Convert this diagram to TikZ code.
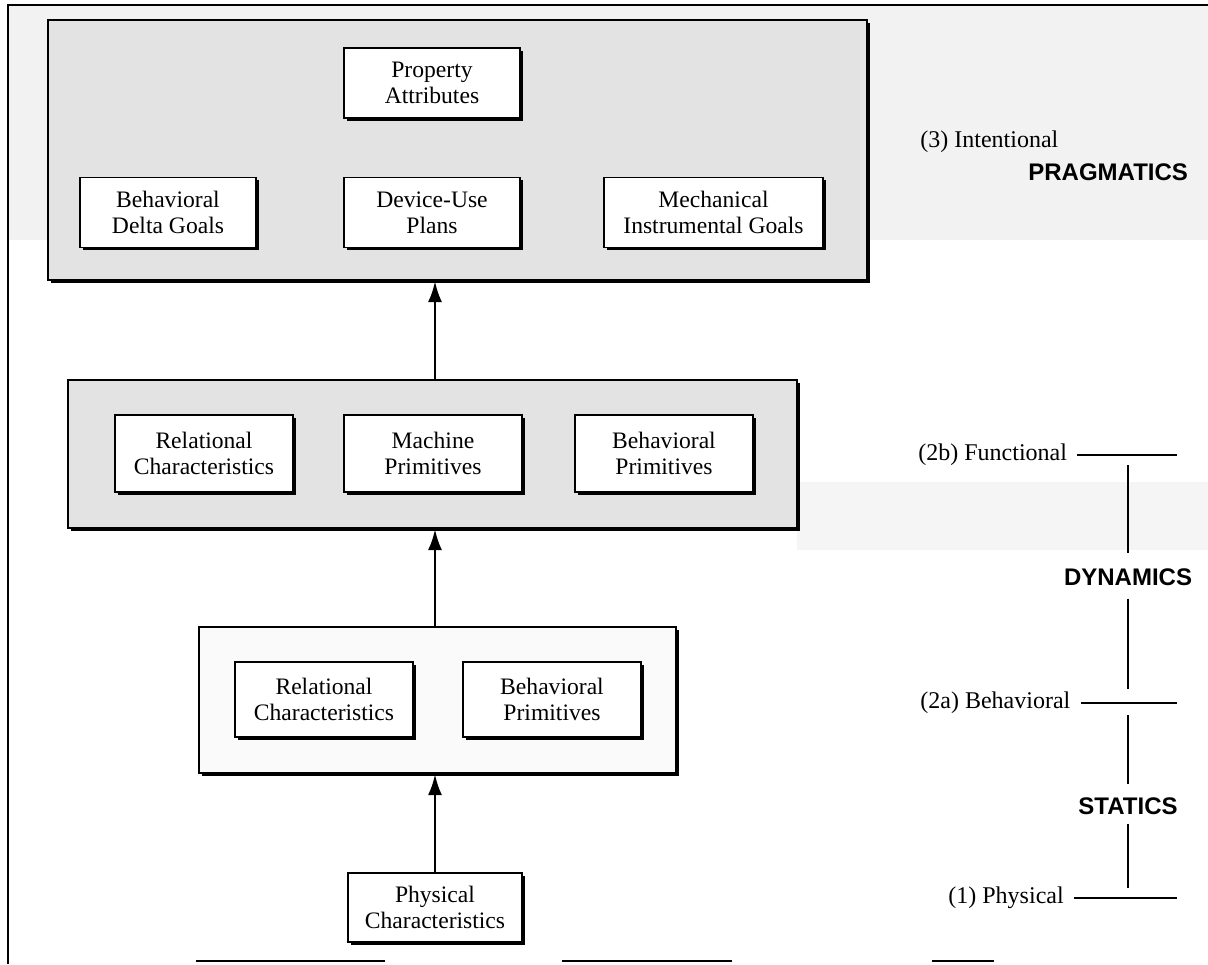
\documentclass[tikz,border=0pt]{standalone}
\usepackage{fontspec}
\setmainfont{Liberation Serif}
\setsansfont{Liberation Sans}
\usepackage{tikz}
\usetikzlibrary{shapes.geometric, arrows.meta, shadows}
\tikzstyle{group} = [rectangle, draw=black, line width=1pt, fill=gray!22, drop shadow={shadow xshift=1.5pt, shadow yshift=-1.5pt, fill=black, opacity=1}]
\tikzstyle{unit} = [rectangle, minimum width=88pt, minimum height=35pt, text centered, align=center, draw=black, line width=0.8pt, fill=white, font=\fontsize{11.8}{12.8}\selectfont, drop shadow={shadow xshift=1.3pt, shadow yshift=-1.3pt, fill=black, opacity=1}]
\tikzstyle{level} = [font=\fontsize{12}{14}\selectfont, inner sep=2pt]
\tikzstyle{realm} = [font=\sffamily\bfseries\fontsize{12}{14}\selectfont]
\tikzstyle{tick} = [line width=0.7pt]
\tikzstyle{arrow} = [line width=1.4pt, -{Latex[length=10.5pt, width=7pt]}]

\begin{document}
\begin{tikzpicture}[x=0.5pt, y=-0.5pt, node distance=115pt]
\useasboundingbox (0,0) rectangle (1208,964);
% scan tint and frame
\fill[gray!10] (8,5) rectangle (1208,240);
\fill[gray!8] (797,482) rectangle (1208,550);
\draw[line width=1.3pt] (8,964) -- (8,5) -- (1208,5);
\draw[line width=1pt] (196,961) -- (385,961);
\draw[line width=1pt] (562,961) -- (732,961);
\draw[line width=1pt] (932,961) -- (994,961);

% level 3
\node (topgrp) [group, minimum width=409.5pt, minimum height=130pt] at (457.5,150) {};
\node (devuse) [unit] at (432,212.5) {Device-Use\\Plans};
\node (property) [unit, above of=devuse, node distance=64.75pt] {Property\\Attributes};
\node (deltagoal) [unit, left of=devuse, node distance=132pt] {Behavioral\\Delta Goals};
\node (instrgoal) [unit, right of=devuse, node distance=140.75pt, minimum width=109.5pt] {Mechanical\\Instrumental Goals};

% level 2b
\node (midgrp) [group, minimum width=364.5pt, minimum height=74pt] at (432.5,454) {};
\node (machprim) [unit, minimum width=89pt, minimum height=38.5pt] at (433,453.5) {Machine\\Primitives};
\node (relchar) [unit, minimum width=89pt, minimum height=38.5pt, left of=machprim, node distance=114.5pt] {Relational\\Characteristics};
\node (behprim) [unit, minimum width=89pt, minimum height=38.5pt, right of=machprim, node distance=115.5pt] {Behavioral\\Primitives};

% level 2a
\node (lowgrp) [group, fill=gray!4, minimum width=238.5pt, minimum height=73pt] at (437.5,700) {};
\node (relchar2) [unit, minimum width=89pt, minimum height=37.5pt] at (324,699.5) {Relational\\Characteristics};
\node (behprim2) [unit, minimum width=89pt, minimum height=37.5pt, right of=relchar2, node distance=114pt] {Behavioral\\Primitives};

% level 1
\node (physchar) [unit, minimum width=87pt, minimum height=34.5pt] at (435,907.5) {Physical\\Characteristics};

\draw [arrow] (physchar.north) -- (physchar.north |- lowgrp.south);
\draw [arrow] (lowgrp.north -| physchar) -- (physchar |- midgrp.south);
\draw [arrow] (midgrp.north -| physchar) -- (physchar |- topgrp.south);

% scale of levels
\coordinate (tickend) at (1177,0);
\node (intent) [level, anchor=west] at (916,142) {(3) Intentional};
\node (pragm) [realm, anchor=east] at (1195,172) {PRAGMATICS};
\node (func) [level, anchor=west] at (914,455) {(2b) Functional};
\node (dyn) [realm] at (1128,577) {DYNAMICS};
\node (behav) [level, anchor=west] at (916,703) {(2a) Behavioral};
\node (stat) [realm] at (1128,806) {STATICS};
\node (phys) [level, anchor=west] at (944,898) {(1) Physical};

\draw [tick] ([xshift=3pt]func.east) -- (func.east -| tickend);
\draw [tick] ([xshift=3pt]behav.east) -- (behav.east -| tickend);
\draw [tick] ([xshift=3pt]phys.east) -- (phys.east -| tickend);
\coordinate (t2b) at (func.east -| dyn);
\coordinate (t2a) at (behav.east -| dyn);
\coordinate (t1) at (phys.east -| dyn);
\draw [tick, line width=1.3pt, shorten <=5pt, shorten >=4pt] (t2b) -- (dyn);
\draw [tick, line width=1.1pt, shorten <=3pt, shorten >=7pt] (dyn) -- (t2a);
\draw [tick, shorten <=6pt, shorten >=3pt] (t2a) -- (stat);
\draw [tick, shorten <=1pt, shorten >=5pt] (stat) -- (t1);
\end{tikzpicture}
\end{document}
